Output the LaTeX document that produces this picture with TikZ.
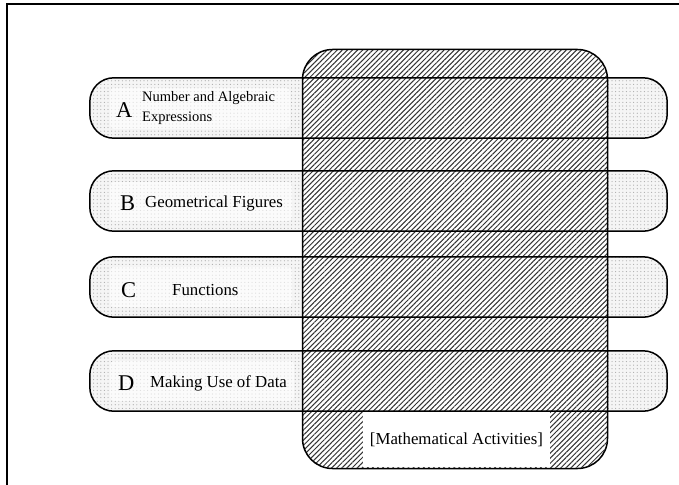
\documentclass[tikz,border=0pt]{standalone}
\usepackage{fontspec}
\setmainfont{Liberation Serif}
\usetikzlibrary{patterns.meta}
\tikzset{
 band/.style={rounded corners=24pt, minimum width=577pt, minimum height=60pt, inner sep=0pt,
   preaction={fill=gray!8}, pattern={Dots[radius=0.6pt,distance=3.6pt]}, pattern color=gray!65},
 bandline/.style={line width=1.5pt, rounded corners=24pt},
 central/.style={minimum width=304pt, minimum height=418pt, inner sep=0pt, rounded corners=30pt,
   preaction={fill=white}, pattern={Lines[angle=45,distance=3.6pt,line width=1pt]}, pattern color=black!80},
 centralline/.style={line width=1.5pt, rounded corners=30pt},
 textbg/.style={fill=white, fill opacity=0.6, text opacity=1, rounded corners=4pt},
 letter/.style={font=\fontsize{22.5}{22.5}\selectfont, inner sep=0pt, anchor=west},
 lbl/.style={font=\fontsize{16.8}{16.8}\selectfont, inner sep=0pt, anchor=west},
 smalllbl/.style={font=\fontsize{14.5}{19.5}\selectfont, inner sep=0pt, anchor=west, align=left},
}
\begin{document}
\begin{tikzpicture}[x=1pt,y=-1pt]
\useasboundingbox (0,0) rectangle (679,484);
% outer frame (only left and top edges fall in the picture)
\draw[line width=2pt] (6.5,500) |- (700,4);
% bands
\node[band] (A) at (378.5,108) {};
\node[band] (B) at (378.5,201) {};
\node[band] (C) at (378.5,287) {};
\node[band] (D) at (378.5,381) {};
% light areas behind the band texts
\fill[textbg] (110,88) rectangle (290,129);
\fill[textbg] (110,182) rectangle (292,221);
\fill[textbg] (110,267) rectangle (292,307);
\fill[textbg] (110,361) rectangle (294,401);
% central activities box
\node[central] (M) at (455,259) {};
\node[fill=white, minimum width=187pt, minimum height=55pt, inner sep=0pt,
      font=\fontsize{16.8}{16.8}\selectfont] (MA) at (456.5,439.5) {[Mathematical Activities]};
% outlines
\foreach \b in {A,B,C,D}
  \draw[bandline] (\b.south west) rectangle (\b.north east);
\draw[centralline] (M.south west) rectangle (M.north east);
% labels
\node[letter] (LA) at (116,110) {A};
\node[smalllbl] (TA) at (142,108) {Number and Algebraic\\Expressions};
\node[letter] (LB) at (120,203) {B};
\node[lbl] (TB) at (145,203) {Geometrical Figures};
\node[letter] (LC) at (121,290) {C};
\node[lbl] (TC) at (172,290) {Functions};
\node[letter] (LD) at (118,383) {D};
\node[lbl] (TD) at (150,383) {Making Use of Data};
\end{tikzpicture}
\end{document}
